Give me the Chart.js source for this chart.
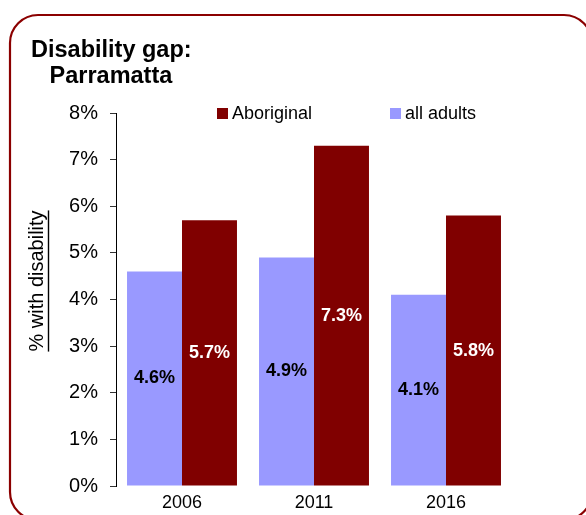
<!DOCTYPE html>
<html><head><meta charset="utf-8">
<script src="https://cdn.jsdelivr.net/npm/chart.js@4/dist/chart.umd.min.js"></script>
<style>html,body{margin:0;padding:0;background:#fff;}#wrap{width:586px;height:515px;position:relative;}</style>
</head><body><div id="wrap"><canvas id="c" width="586" height="515"></canvas></div>
<script>
const categories = ["2006", "2011", "2016"];
const allAdults = [4.6, 4.9, 4.1];
const aboriginal = [5.7, 7.3, 5.8];
const yTicks = [0, 1, 2, 3, 4, 5, 6, 7, 8];
const titleLines = ["Disability gap:", " Parramatta"];
const yTitle = "% with disability";

const FONT = "'Liberation Sans', Arial, sans-serif";

const framePlugin = {
  id: 'frame',
  beforeDraw(chart) {
    const ctx = chart.ctx;
    ctx.save();
    ctx.fillStyle = '#fff';
    ctx.fillRect(0, 0, chart.width, chart.height);
    ctx.strokeStyle = '#8B0000';
    ctx.lineWidth = 2.2;
    ctx.beginPath();
    ctx.roundRect(10, 15, 582, 505, 28);
    ctx.stroke();
    // title
    ctx.fillStyle = '#000';
    ctx.font = 'bold 23.5px ' + FONT;
    ctx.textBaseline = 'alphabetic';
    ctx.fillText(titleLines[0], 31, 57);
    ctx.fillText(titleLines[1], 43, 83);
    ctx.restore();
  },
  afterDraw(chart) {
    const ctx = chart.ctx;
    ctx.save();
    // legend
    const items = [chart.data.datasets[1], chart.data.datasets[0]];
    const xs = [217, 390];
    ctx.font = '18px ' + FONT;
    ctx.textBaseline = 'middle';
    items.forEach((ds, i) => {
      ctx.fillStyle = ds.backgroundColor;
      ctx.fillRect(xs[i], 108, 11, 11);
      ctx.fillStyle = '#000';
      ctx.fillText(ds.label, xs[i] + 15, 114);
    });
    // data labels
    ctx.font = 'bold 18px ' + FONT;
    ctx.textAlign = 'center';
    chart.data.datasets.forEach((ds, di) => {
      const meta = chart.getDatasetMeta(di);
      meta.data.forEach((bar, i) => {
        const p = bar.getProps(['x', 'y', 'base'], true);
        ctx.fillStyle = di === 0 ? '#000' : '#fff';
        ctx.fillText(ds.data[i].toFixed(1) + '%', p.x, (p.y + p.base) / 2);
      });
    });
    // y axis title, underlined
    ctx.font = '20px ' + FONT;
    const w = ctx.measureText(yTitle).width;
    const cy = 281;
    ctx.save();
    ctx.translate(37, cy);
    ctx.rotate(-Math.PI / 2);
    ctx.fillStyle = '#000';
    ctx.textAlign = 'center';
    ctx.textBaseline = 'middle';
    ctx.fillText(yTitle, 0, 0);
    ctx.restore();
    ctx.strokeStyle = '#000';
    ctx.lineWidth = 1.4;
    ctx.beginPath();
    ctx.moveTo(48.5, cy - w / 2);
    ctx.lineTo(48.5, cy + w / 2);
    ctx.stroke();
    ctx.restore();
  }
};

new Chart(document.getElementById('c'), {
  type: 'bar',
  data: {
    labels: categories,
    datasets: [
      { label: 'all adults', data: allAdults, backgroundColor: '#9999FF' },
      { label: 'Aboriginal', data: aboriginal, backgroundColor: '#800000' }
    ]
  },
  options: {
    responsive: false,
    animation: false,
    devicePixelRatio: 1,
    layout: { padding: { left: 0, right: 74, top: 113, bottom: 0 } },
    datasets: { bar: { categoryPercentage: 0.833, barPercentage: 1.0 } },
    plugins: { legend: { display: false }, title: { display: false }, tooltip: { enabled: false } },
    scales: {
      x: {
        grid: { display: false, drawTicks: false },
        border: { display: false },
        ticks: { color: '#000', font: { family: FONT, size: 18 }, padding: 6 },
        afterFit(s) { s.height = 29; }
      },
      y: {
        min: 0, max: 8,
        afterBuildTicks(s) { s.ticks = yTicks.map(v => ({ value: v })); },
        grid: { drawOnChartArea: false, drawTicks: true, tickLength: 6, color: '#333' },
        border: { display: true, color: '#000', width: 1 },
        ticks: { color: '#000', font: { family: FONT, size: 20 }, padding: 12, callback: v => v + '%' },
        title: { display: false },
        afterFit(s) { s.width = 116; s.paddingTop = 0; }
      }
    }
  },
  plugins: [framePlugin]
});
</script></body></html>
